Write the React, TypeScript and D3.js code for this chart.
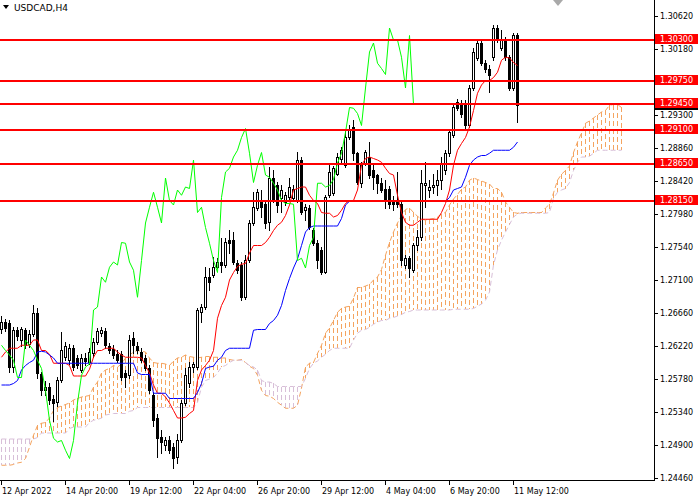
import React from 'react';
import * as d3 from 'd3';

// USDCAD H4 candles, [open, high, low, close]
const candles: [number, number, number, number][] = [
  [1.2644, 1.2662, 1.2639, 1.2654], [1.2654, 1.2658, 1.2642, 1.2646], [1.2652, 1.2656, 1.2588, 1.2594], [1.2594, 1.2647, 1.2587, 1.2643],
  [1.2643, 1.2648, 1.2630, 1.2635], [1.2630, 1.2648, 1.2622, 1.2644], [1.2643, 1.2646, 1.2619, 1.2623], [1.2624, 1.2643, 1.2620, 1.2638],
  [1.2638, 1.2676, 1.2635, 1.2666], [1.2666, 1.2672, 1.2579, 1.2586], [1.2584, 1.2588, 1.2556, 1.2563], [1.2563, 1.2575, 1.2556, 1.2568],
  [1.2568, 1.2572, 1.2544, 1.2550], [1.2551, 1.2556, 1.2522, 1.2546], [1.2547, 1.2580, 1.2542, 1.2576], [1.2576, 1.2640, 1.2574, 1.2616],
  [1.2608, 1.2628, 1.2603, 1.2622], [1.2603, 1.2624, 1.2598, 1.2619], [1.2619, 1.2623, 1.2590, 1.2594], [1.2606, 1.2610, 1.2592, 1.2596],
  [1.2590, 1.2611, 1.2587, 1.2606], [1.2606, 1.2612, 1.2596, 1.2602], [1.2600, 1.2619, 1.2598, 1.2614], [1.2612, 1.2632, 1.2608, 1.2628],
  [1.2627, 1.2646, 1.2624, 1.2642], [1.2639, 1.2647, 1.2635, 1.2643], [1.2642, 1.2646, 1.2619, 1.2623], [1.2622, 1.2626, 1.2612, 1.2616],
  [1.2618, 1.2623, 1.2606, 1.2610], [1.2611, 1.2616, 1.2600, 1.2603], [1.2611, 1.2615, 1.2576, 1.2580], [1.2586, 1.2590, 1.2567, 1.2580],
  [1.2583, 1.2636, 1.2579, 1.2630], [1.2632, 1.2640, 1.2612, 1.2623], [1.2622, 1.2627, 1.2612, 1.2616], [1.2614, 1.2619, 1.2600, 1.2603],
  [1.2606, 1.2610, 1.2590, 1.2592], [1.2592, 1.2596, 1.2559, 1.2563], [1.2556, 1.2560, 1.2515, 1.2523], [1.2526, 1.2531, 1.2474, 1.2499],
  [1.2500, 1.2510, 1.2479, 1.2494], [1.2490, 1.2500, 1.2483, 1.2496], [1.2496, 1.2502, 1.2479, 1.2483], [1.2487, 1.2492, 1.2459, 1.2472],
  [1.2474, 1.2504, 1.2466, 1.2496], [1.2496, 1.2550, 1.2494, 1.2546], [1.2546, 1.2592, 1.2543, 1.2583], [1.2572, 1.2600, 1.2568, 1.2594],
  [1.2594, 1.2600, 1.2588, 1.2598], [1.2594, 1.2672, 1.2591, 1.2670], [1.2667, 1.2678, 1.2654, 1.2674], [1.2674, 1.2727, 1.2671, 1.2714],
  [1.2714, 1.2726, 1.2696, 1.2707], [1.2716, 1.2740, 1.2714, 1.2727], [1.2727, 1.2739, 1.2726, 1.2734], [1.2734, 1.2766, 1.2720, 1.2730],
  [1.2730, 1.2766, 1.2727, 1.2760], [1.2763, 1.2776, 1.2746, 1.2759], [1.2763, 1.2774, 1.2731, 1.2734], [1.2732, 1.2736, 1.2719, 1.2723],
  [1.2730, 1.2734, 1.2683, 1.2687], [1.2687, 1.2743, 1.2684, 1.2736], [1.2736, 1.2790, 1.2734, 1.2786], [1.2786, 1.2827, 1.2783, 1.2807],
  [1.2806, 1.2832, 1.2803, 1.2827], [1.2816, 1.2830, 1.2794, 1.2807], [1.2812, 1.2816, 1.2779, 1.2786], [1.2787, 1.2860, 1.2776, 1.2846],
  [1.2846, 1.2856, 1.2814, 1.2816], [1.2836, 1.2840, 1.2800, 1.2810], [1.2819, 1.2836, 1.2800, 1.2830], [1.2814, 1.2827, 1.2810, 1.2823],
  [1.2820, 1.2846, 1.2818, 1.2834], [1.2819, 1.2836, 1.2816, 1.2832], [1.2816, 1.2880, 1.2814, 1.2870], [1.2870, 1.2874, 1.2798, 1.2800],
  [1.2803, 1.2812, 1.2790, 1.2807], [1.2806, 1.2810, 1.2778, 1.2780], [1.2776, 1.2779, 1.2756, 1.2759], [1.2759, 1.2763, 1.2726, 1.2736],
  [1.2750, 1.2754, 1.2718, 1.2720], [1.2720, 1.2824, 1.2719, 1.2820], [1.2823, 1.2863, 1.2820, 1.2854], [1.2826, 1.2862, 1.2823, 1.2859],
  [1.2852, 1.2879, 1.2850, 1.2874], [1.2872, 1.2888, 1.2867, 1.2883], [1.2863, 1.2912, 1.2860, 1.2900], [1.2900, 1.2916, 1.2898, 1.2912],
  [1.2914, 1.2923, 1.2870, 1.2879], [1.2879, 1.2880, 1.2838, 1.2840], [1.2839, 1.2867, 1.2834, 1.2863], [1.2866, 1.2883, 1.2863, 1.2880],
  [1.2874, 1.2894, 1.2846, 1.2850], [1.2856, 1.2863, 1.2832, 1.2847], [1.2850, 1.2852, 1.2826, 1.2839], [1.2839, 1.2846, 1.2827, 1.2830],
  [1.2832, 1.2843, 1.2806, 1.2816], [1.2832, 1.2835, 1.2806, 1.2812], [1.2816, 1.2822, 1.2804, 1.2812], [1.2814, 1.2854, 1.2808, 1.2811],
  [1.2812, 1.2815, 1.2730, 1.2736], [1.2730, 1.2743, 1.2726, 1.2739], [1.2739, 1.2742, 1.2714, 1.2726], [1.2723, 1.2759, 1.2720, 1.2756],
  [1.2756, 1.2776, 1.2750, 1.2767], [1.2767, 1.2856, 1.2763, 1.2839], [1.2836, 1.2867, 1.2807, 1.2839], [1.2830, 1.2843, 1.2820, 1.2834],
  [1.2834, 1.2852, 1.2826, 1.2836], [1.2836, 1.2856, 1.2823, 1.2844], [1.2843, 1.2874, 1.2832, 1.2866], [1.2856, 1.2883, 1.2851, 1.2879],
  [1.2879, 1.2910, 1.2875, 1.2907], [1.2903, 1.2946, 1.2900, 1.2940], [1.2947, 1.2952, 1.2936, 1.2939], [1.2946, 1.2950, 1.2928, 1.2932],
  [1.2946, 1.2950, 1.2912, 1.2916], [1.2916, 1.2970, 1.2914, 1.2966], [1.2966, 1.3019, 1.2963, 1.3014], [1.3006, 1.3032, 1.3003, 1.3026],
  [1.3026, 1.3032, 1.2996, 1.2999], [1.2999, 1.3003, 1.2987, 1.2992], [1.2992, 1.2996, 1.2960, 1.2984], [1.3007, 1.3050, 1.3003, 1.3046],
  [1.3046, 1.3050, 1.3027, 1.3030], [1.3019, 1.3043, 1.3016, 1.3030], [1.3030, 1.3034, 1.3004, 1.3007], [1.3007, 1.3010, 1.2963, 1.2966],
  [1.2966, 1.3039, 1.2963, 1.3036], [1.3036, 1.3039, 1.2920, 1.2944],
];

// Ichimoku lines
const tenkan = [
  1.2607, 1.2614, 1.2619, 1.2619, 1.2619, 1.2623, 1.2623, 1.2623, 1.2630, 1.2630,
  1.2616, 1.2616, 1.2611, 1.2599, 1.2599, 1.2599, 1.2599, 1.2596, 1.2582, 1.2582,
  1.2582, 1.2582, 1.2591, 1.2607, 1.2616, 1.2616, 1.2619, 1.2619, 1.2619, 1.2614,
  1.2610, 1.2607, 1.2607, 1.2607, 1.2607, 1.2606, 1.2596, 1.2586, 1.2570, 1.2559,
  1.2559, 1.2554, 1.2546, 1.2536, 1.2526, 1.2526, 1.2527, 1.2532, 1.2536, 1.2576,
  1.2590, 1.2596, 1.2603, 1.2616, 1.2659, 1.2676, 1.2687, 1.2710, 1.2720, 1.2728,
  1.2731, 1.2732, 1.2746, 1.2756, 1.2756, 1.2756, 1.2760, 1.2767, 1.2776, 1.2783,
  1.2787, 1.2796, 1.2810, 1.2830, 1.2832, 1.2834, 1.2834, 1.2823, 1.2816, 1.2812,
  1.2800, 1.2799, 1.2799, 1.2794, 1.2796, 1.2803, 1.2812, 1.2816, 1.2816, 1.2830,
  1.2863, 1.2872, 1.2874, 1.2872, 1.2870, 1.2867, 1.2859, 1.2852, 1.2850, 1.2823,
  1.2800, 1.2787, 1.2783, 1.2783, 1.2787, 1.2791, 1.2791, 1.2791, 1.2791, 1.2791,
  1.2800, 1.2812, 1.2830, 1.2863, 1.2883, 1.2892, 1.2900, 1.2914, 1.2936, 1.2959,
  1.2970, 1.2976, 1.2976, 1.2980, 1.2987, 1.3003, 1.3007, 1.3006, 1.3000, 1.2996,
];

const kijun = [
  1.2570, 1.2570, 1.2570, 1.2572, 1.2576, 1.2590, 1.2596, 1.2600, 1.2603, 1.2614,
  1.2615, 1.2614, 1.2610, 1.2606, 1.2599, 1.2599, 1.2599, 1.2599, 1.2599, 1.2599,
  1.2599, 1.2599, 1.2599, 1.2599, 1.2599, 1.2599, 1.2599, 1.2599, 1.2599, 1.2599,
  1.2599, 1.2599, 1.2599, 1.2599, 1.2586, 1.2584, 1.2584, 1.2584, 1.2559, 1.2559,
  1.2559, 1.2559, 1.2552, 1.2552, 1.2552, 1.2552, 1.2552, 1.2552, 1.2552, 1.2560,
  1.2572, 1.2592, 1.2594, 1.2595, 1.2603, 1.2607, 1.2616, 1.2619, 1.2619, 1.2619,
  1.2619, 1.2619, 1.2619, 1.2643, 1.2644, 1.2644, 1.2644, 1.2652, 1.2656, 1.2663,
  1.2676, 1.2696, 1.2712, 1.2726, 1.2738, 1.2756, 1.2774, 1.2780, 1.2782, 1.2782,
  1.2782, 1.2782, 1.2782, 1.2782, 1.2782, 1.2792, 1.2810, 1.2815, 1.2815, 1.2815,
  1.2815, 1.2815, 1.2815, 1.2815, 1.2815, 1.2815, 1.2815, 1.2815, 1.2815, 1.2815,
  1.2815, 1.2815, 1.2815, 1.2815, 1.2815, 1.2815, 1.2815, 1.2815, 1.2815, 1.2815,
  1.2815, 1.2815, 1.2820, 1.2830, 1.2832, 1.2834, 1.2847, 1.2863, 1.2870, 1.2874,
  1.2876, 1.2876, 1.2879, 1.2883, 1.2883, 1.2883, 1.2883, 1.2883, 1.2887, 1.2894,
];

// senkou spans run 26 bars past the last candle
const spanA = [
  1.2463, 1.2463, 1.2463, 1.2464, 1.2466, 1.2467, 1.2472, 1.2487, 1.2503, 1.2516,
  1.2519, 1.2520, 1.2526, 1.2536, 1.2540, 1.2542, 1.2544, 1.2546, 1.2550, 1.2552,
  1.2554, 1.2555, 1.2556, 1.2567, 1.2574, 1.2586, 1.2590, 1.2592, 1.2596, 1.2594,
  1.2598, 1.2606, 1.2610, 1.2614, 1.2616, 1.2615, 1.2614, 1.2606, 1.2600, 1.2599,
  1.2599, 1.2598, 1.2596, 1.2602, 1.2606, 1.2607, 1.2610, 1.2608, 1.2607, 1.2606,
  1.2607, 1.2608, 1.2608, 1.2607, 1.2607, 1.2606, 1.2606, 1.2604, 1.2603, 1.2603,
  1.2604, 1.2600, 1.2595, 1.2592, 1.2583, 1.2563, 1.2556, 1.2555, 1.2552, 1.2547,
  1.2543, 1.2539, 1.2539, 1.2539, 1.2543, 1.2566, 1.2594, 1.2599, 1.2600, 1.2612,
  1.2623, 1.2639, 1.2646, 1.2656, 1.2667, 1.2672, 1.2674, 1.2675, 1.2686, 1.2700,
  1.2700, 1.2702, 1.2704, 1.2710, 1.2714, 1.2724, 1.2743, 1.2760, 1.2774, 1.2786,
  1.2796, 1.2804, 1.2806, 1.2800, 1.2795, 1.2791, 1.2790, 1.2791, 1.2792, 1.2794,
  1.2798, 1.2800, 1.2810, 1.2818, 1.2824, 1.2831, 1.2834, 1.2843, 1.2846, 1.2844,
  1.2842, 1.2840, 1.2838, 1.2832, 1.2832, 1.2827, 1.2814, 1.2807, 1.2800, 1.2799,
  1.2800, 1.2800, 1.2800, 1.2800, 1.2800, 1.2800, 1.2806, 1.2811, 1.2826, 1.2843,
  1.2851, 1.2856, 1.2862, 1.2880, 1.2894, 1.2906, 1.2919, 1.2922, 1.2926, 1.2930,
  1.2934, 1.2936, 1.2943, 1.2944, 1.2944, 1.2940,
];

const spanB = [
  1.2498, 1.2498, 1.2498, 1.2498, 1.2498, 1.2498, 1.2498, 1.2498, 1.2498, 1.2500,
  1.2506, 1.2506, 1.2506, 1.2506, 1.2506, 1.2506, 1.2506, 1.2512, 1.2514, 1.2514,
  1.2514, 1.2514, 1.2520, 1.2523, 1.2524, 1.2526, 1.2530, 1.2531, 1.2532, 1.2532,
  1.2532, 1.2532, 1.2535, 1.2536, 1.2540, 1.2540, 1.2540, 1.2540, 1.2540, 1.2540,
  1.2540, 1.2540, 1.2540, 1.2540, 1.2540, 1.2540, 1.2540, 1.2540, 1.2540, 1.2547,
  1.2567, 1.2576, 1.2578, 1.2580, 1.2586, 1.2594, 1.2596, 1.2600, 1.2603, 1.2603,
  1.2603, 1.2600, 1.2596, 1.2594, 1.2590, 1.2576, 1.2574, 1.2574, 1.2572, 1.2568,
  1.2568, 1.2568, 1.2568, 1.2568, 1.2568, 1.2568, 1.2579, 1.2592, 1.2599, 1.2602,
  1.2607, 1.2611, 1.2616, 1.2619, 1.2619, 1.2619, 1.2619, 1.2619, 1.2630, 1.2639,
  1.2643, 1.2644, 1.2647, 1.2651, 1.2654, 1.2656, 1.2656, 1.2659, 1.2660, 1.2662,
  1.2664, 1.2667, 1.2668, 1.2670, 1.2670, 1.2670, 1.2670, 1.2670, 1.2670, 1.2670,
  1.2670, 1.2670, 1.2670, 1.2671, 1.2671, 1.2671, 1.2671, 1.2671, 1.2672, 1.2675,
  1.2678, 1.2683, 1.2694, 1.2730, 1.2750, 1.2763, 1.2774, 1.2784, 1.2794, 1.2798,
  1.2799, 1.2799, 1.2799, 1.2799, 1.2799, 1.2799, 1.2799, 1.2800, 1.2819, 1.2827,
  1.2830, 1.2832, 1.2840, 1.2856, 1.2867, 1.2874, 1.2874, 1.2875, 1.2879, 1.2883,
  1.2883, 1.2883, 1.2883, 1.2883, 1.2883, 1.2883,
];

const chikouShift = 26;

// horizontal support / resistance levels
const levels = [1.3030, 1.2975, 1.2945, 1.2910, 1.2865, 1.2815];
const bidPrice = 1.2944;

const yTicks = [
  1.3062, 1.3018, 1.2974, 1.2930, 1.2886, 1.2842, 1.2798, 1.2754,
  1.2710, 1.2666, 1.2622, 1.2578, 1.2534, 1.2490, 1.2446,
];
const xTickBars = [0, 16, 32, 48, 64, 80, 96, 112, 128];
const xTickLabels = [
  '12 Apr 2022', '14 Apr 20:00', '19 Apr 12:00', '22 Apr 04:00', '26 Apr 20:00',
  '29 Apr 12:00', '4 May 04:00', '6 May 20:00', '11 May 12:00',
];

const FONT = '"DejaVu Sans", Tahoma, sans-serif';
const SANDY = '#F4A460';
const THISTLE = '#D8BFD8';
const plotRight = 654;
const plotBottom = 480;

export default function App() {
  const x = d3.scaleLinear().domain([0, 1]).range([1, 5]);
  const y = d3.scaleLinear().domain([1.2446, 1.3062]).range([478, 16]);
  const fmt = d3.format('.5f');

  const seriesPath = (vals: number[], offset = 0) =>
    d3.line<number>()
      .x((_, i) => x(i + offset) + 0.5)
      .y(v => y(v))(vals) || '';

  const chikou = candles.slice(chikouShift).map(c => c[3]);

  // axis labels that sit under a level label are hidden, as in the terminal
  const levelYs = levels.map(v => y(v));
  const visibleTicks = yTicks.filter(v => levelYs.every(ly => Math.abs(ly - y(v)) > 8));

  return (
    <svg
      width={700}
      height={500}
      style={{ position: 'fixed', left: 0, top: 0, background: '#fff' }}
    >
      <rect x={0} y={0} width={700} height={500} fill="#fff" />

      {/* kumo hatching */}
      <g shapeRendering="crispEdges">
        {spanA.map((a, i) => {
          const b = spanB[i];
          const y1 = Math.round(Math.min(y(a), y(b)));
          const y2 = Math.round(Math.max(y(a), y(b)));
          return (
            <line
              key={i}
              x1={x(i) + 0.5}
              x2={x(i) + 0.5}
              y1={y1}
              y2={y2}
              stroke={a >= b ? SANDY : THISTLE}
              strokeDasharray="5,3"
            />
          );
        })}
      </g>
      <path d={seriesPath(spanA)} fill="none" stroke={SANDY} strokeDasharray="5,3" />
      <path d={seriesPath(spanB)} fill="none" stroke={THISTLE} strokeDasharray="5,3" />

      {/* candles */}
      <g shapeRendering="crispEdges">
        {candles.map(([o, h, l, c], i) => {
          const cx = x(i);
          const top = Math.round(y(Math.max(o, c)));
          const bot = Math.round(y(Math.min(o, c)));
          const bull = c >= o;
          return (
            <g key={i}>
              <line x1={cx + 0.5} x2={cx + 0.5} y1={Math.round(y(h))} y2={Math.round(y(l)) + 1} stroke="#000" />
              {bull ? (
                <rect x={cx - 0.5} y={top + 0.5} width={2} height={Math.max(bot - top, 1)} fill="#fff" stroke="#000" />
              ) : (
                <rect x={cx - 1} y={top} width={3} height={Math.max(bot - top + 1, 1)} fill="#000" />
              )}
            </g>
          );
        })}
      </g>

      {/* tenkan, kijun, chikou */}
      <path d={seriesPath(tenkan)} fill="none" stroke="#FF0000" strokeWidth={1} />
      <path d={seriesPath(kijun)} fill="none" stroke="#0000FF" strokeWidth={1} />
      <path d={seriesPath(chikou)} fill="none" stroke="#00FF00" strokeWidth={1} />

      {/* level lines */}
      <g shapeRendering="crispEdges">
        {levels.map(v => (
          <line key={v} x1={0} x2={plotRight} y1={Math.round(y(v))} y2={Math.round(y(v))} stroke="#FF0000" strokeWidth={2} />
        ))}
      </g>

      {/* axes */}
      <g shapeRendering="crispEdges" stroke="#000">
        <line x1={plotRight + 0.5} x2={plotRight + 0.5} y1={0} y2={plotBottom + 1} />
        <line x1={0} x2={plotRight + 1} y1={plotBottom + 0.5} y2={plotBottom + 0.5} />
        {yTicks.map(v => (
          <line key={v} x1={plotRight} x2={plotRight + 4} y1={Math.round(y(v)) + 0.5} y2={Math.round(y(v)) + 0.5} />
        ))}
        {xTickBars.map(b => (
          <line key={b} x1={x(b) + 0.5} x2={x(b) + 0.5} y1={plotBottom} y2={plotBottom + 5} />
        ))}
      </g>
      <g fontFamily={FONT} fontSize={8} fill="#000">
        {visibleTicks.map(v => (
          <text key={v} x={660} y={y(v) + 3}>{fmt(v)}</text>
        ))}
        {xTickBars.map((b, i) => (
          <text key={b} x={x(b) + 1} y={494}>{xTickLabels[i]}</text>
        ))}
      </g>

      {/* bid box and level labels */}
      <rect x={655} y={Math.round(y(bidPrice)) - 5} width={43} height={10} fill="#000" shapeRendering="crispEdges" />
      {levels.map(v => {
        const yy = Math.round(y(v));
        return (
          <g key={v}>
            <rect x={655} y={yy - 6} width={43} height={10} fill="#FF0000" shapeRendering="crispEdges" />
            <text x={676.5} y={yy + 2} textAnchor="middle" fontFamily={FONT} fontSize={8} fill="#fff">{fmt(v)}</text>
          </g>
        );
      })}

      {/* title and shift marker */}
      <polygon points="3,5 9,5 6,9" fill="#000" />
      <text x={14} y={11} fontFamily={FONT} fontSize={9} fill="#000">USDCAD,H4</text>
      <polygon points="553,0 563,0 558,6" fill="#A9A9A9" />
    </svg>
  );
}
